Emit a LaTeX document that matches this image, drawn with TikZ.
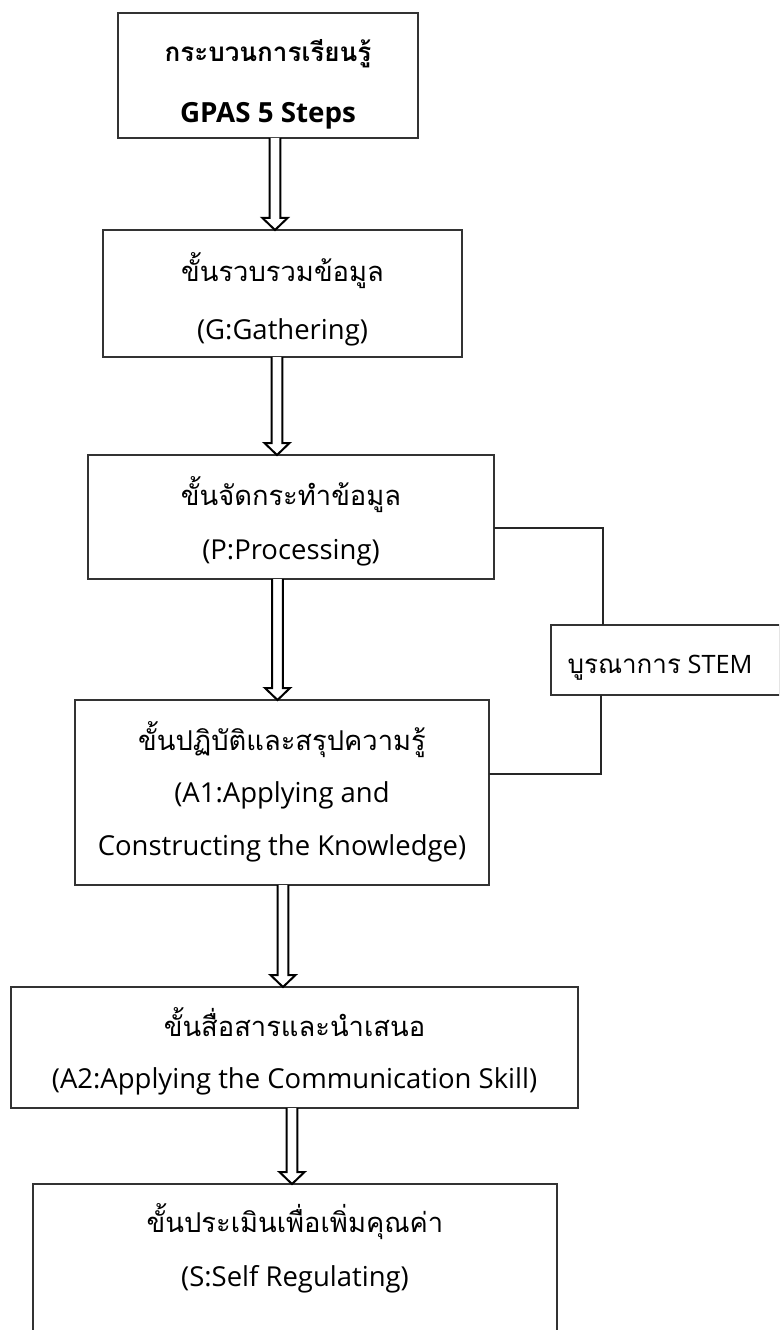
\documentclass[tikz,border=0pt]{standalone}
\usepackage{fontspec}
\setmainfont{Open Sans}
\newfontfamily\thai[Script=Thai]{Loma}
\usetikzlibrary{calc}
\tikzset{
  box/.style={draw=black!80, line width=0.9pt, rectangle, inner sep=0pt, outer sep=0pt},
  txt/.style={anchor=base, inner sep=0pt, font=\fontsize{20.6}{22}\selectfont},
  thtxt/.style={anchor=base, inner sep=0pt, font=\fontsize{20.5}{22}\selectfont\thai},
  harrow/.style={draw=black, line width=1.5pt, line join=miter, fill=white},
  conn/.style={draw=black!85, line width=0.8pt}
}
\newcommand\hollowarrow[2]{%
  \draw[harrow] let \p1=(#1), \p2=(#2) in
    (\x1-4.1pt,\y1) -- (\x1-4.1pt,\y2+9pt) -- (\x1-9.4pt,\y2+9pt) -- (\x1,\y2)
    -- (\x1+9.4pt,\y2+9pt) -- (\x1+4.1pt,\y2+9pt) -- (\x1+4.1pt,\y1);}
\begin{document}
\begin{tikzpicture}[x=0.75pt,y=-0.75pt]
\useasboundingbox (0,0) rectangle (779,1330);
\clip (0,0) rectangle (779,1330);
% boxes
\node[box, minimum width=225pt, minimum height=93.75pt] (b1) at (268,75.5) {};
\node[box, minimum width=269.25pt, minimum height=95.25pt] (b2) at (282.5,293.5) {};
\node[box, minimum width=304.5pt, minimum height=93pt] (b3) at (291,517) {};
\node[box, minimum width=310.5pt, minimum height=138.75pt] (b4) at (282,792.5) {};
\node[box, minimum width=425.25pt, minimum height=90.75pt] (b5) at (294.5,1047.5) {};
\node[box, minimum width=393pt, minimum height=132pt] (b6) at (295,1272) {};
\node[box, minimum width=171.75pt, minimum height=52.5pt] (stem) at (665.5,660) {};
% texts
\node[thtxt, font=\fontsize{19.5}{21}\selectfont\thai\bfseries] (t1a) at (268,62) {กระบวนการเรียนรู้};
\node[txt, font=\fontsize{20.8}{22}\selectfont\bfseries] (t1b) at (268,123) {GPAS 5 Steps};
\node[thtxt] (t2a) at (282.5,281) {ขั้นรวบรวมข้อมูล};
\node[txt] (t2b) at (282.5,339) {(G:Gathering)};
\node[thtxt] (t3a) at (291,505) {ขั้นจัดกระทำข้อมูล};
\node[txt] (t3b) at (291,559) {(P:Processing)};
\node[thtxt] (t4a) at (282,750) {ขั้นปฏิบัติและสรุปความรู้};
\node[txt] (t4b) at (282,802) {(A1:Applying and};
\node[txt] (t4c) at (282,855) {Constructing the Knowledge)};
\node[thtxt] (t5a) at (294.5,1036) {ขั้นสื่อสารและนำเสนอ};
\node[txt] (t5b) at (294.5,1088) {(A2:Applying the Communication Skill)};
\node[thtxt] (t6a) at (295,1232) {ขั้นประเมินเพื่อเพิ่มคุณค่า};
\node[txt] (t6b) at (295,1286) {(S:Self Regulating)};
\node[txt, font=\fontsize{19}{20}\selectfont] (ts) at (660,673) {{\fontsize{19.5}{20}\selectfont\thai บูรณาการ} STEM};
% arrow columns
\coordinate (x1) at (275,0);
\coordinate (x2) at (277,0);
\coordinate (x3) at (277.5,0);
\coordinate (x4) at (283,0);
\coordinate (x5) at (292,0);
\hollowarrow{b1.south -| x1}{b2.north -| x1}
\hollowarrow{b2.south -| x2}{b3.north -| x2}
\hollowarrow{b3.south -| x3}{b4.north -| x3}
\hollowarrow{b4.south -| x4}{b5.north -| x4}
\hollowarrow{b5.south -| x5}{b6.north -| x5}
% STEM connectors
\coordinate (ya) at (0,528);
\coordinate (xa) at (603,0);
\coordinate (yb) at (0,774);
\coordinate (xb) at (601,0);
\draw[conn] (b3.east |- ya) -| (stem.north -| xa);
\draw[conn] (stem.south -| xb) |- (b4.east |- yb);
\end{tikzpicture}
\end{document}
